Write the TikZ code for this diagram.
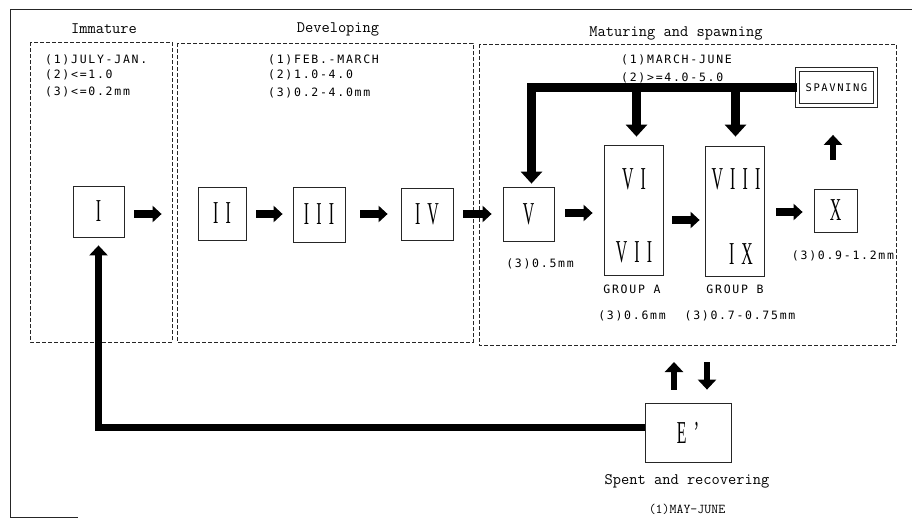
\documentclass[tikz,border=0pt]{standalone}
\usepackage{fontspec}
\usepackage{graphicx}
\setmainfont{Liberation Serif}
\newfontfamily\plotfont[LetterSpace=15]{DejaVu Sans Mono}
\newfontfamily\typefont{Latin Modern Mono}
\newfontfamily\numfont[LetterSpace=45]{Liberation Serif}
\usetikzlibrary{arrows.meta}
\newcommand{\rn}[1]{{\numfont\fontsize{22}{22}\selectfont\scalebox{0.72}[1.45]{#1}}}
\begin{document}
\begin{tikzpicture}[x=1pt,y=-1pt,
  stage/.style={draw=black!85, line width=0.8pt, inner sep=0pt},
  zone/.style={draw=black!85, line width=0.7pt, dash pattern=on 4pt off 2pt},
  title/.style={font=\typefont\fontsize{16}{16}\selectfont, inner sep=0pt},
  data/.style={font=\plotfont\fontsize{11.5}{11.5}\selectfont, inner sep=0pt},
  spent/.style={font=\typefont\fontsize{16}{16}\selectfont, inner sep=0pt},
  blk/.style={line width=8pt, -{Triangle[length=9pt,width=16pt]}},
  blkv/.style={line width=6pt, -{Triangle[length=10pt,width=18pt]}},
  bar/.style={line width=9pt, line join=miter, -{Triangle[length=12pt,width=21pt]}},
  ret/.style={line width=7pt, line join=miter, -{Triangle[length=10pt,width=18pt]}},
]
\useasboundingbox (0,0) rectangle (912,523);
% outer frame
\draw[line width=0.8pt, black!85] (912,9) -- (10,9) -- (10,517) -- (78,517);
% zones
\draw[zone] (30,42) rectangle (172,342);
\draw[zone] (177,43) rectangle (473,342);
\draw[zone] (479,44) rectangle (896,345);
% titles
\node[title] (tImm) at (104,29) {Immature};
\node[title] (tDev) at (338,29) {Developing};
\node[title] (tMat) at (676,33) {Maturing and spawning};
% data texts
\node[data, anchor=base west] (d11) at (45,63) {(1)JULY-JAN.};
\node[data, anchor=base west] (d12) at (45,78) {(2)<=1.0};
\node[data, anchor=base west] (d13) at (45,95) {(3)<=0.2mm};
\node[data, anchor=base west] (d21) at (268,63) {(1)FEB.-MARCH};
\node[data, anchor=base west] (d22) at (268,78) {(2)1.0-4.0};
\node[data, anchor=base west] (d23) at (268,96) {(3)0.2-4.0mm};
\node[data, anchor=base west] (d31) at (621,63) {(1)MARCH-JUNE};
\node[data, anchor=base west] (d32) at (621,81) {(2)>=4.0-5.0};
% stage boxes
\node[stage, minimum width=51pt, minimum height=51pt] (I) at (98.5,211.5) {\rn{I}};
\node[stage, minimum width=48pt, minimum height=53pt] (II) at (222,213.5) {\rn{II}};
\node[stage, minimum width=52pt, minimum height=55pt] (III) at (319,214.5) {\rn{III}};
\node[stage, minimum width=52pt, minimum height=52pt] (IV) at (427,214) {\rn{IV}};
\node[stage, minimum width=51pt, minimum height=54pt] (V) at (528.5,214) {\rn{V}};
\node[stage, minimum width=59pt, minimum height=130pt] (A) at (633.5,210) {};
\node (t6) at (634,179) {\rn{VI}};
\node (t7) at (634,252) {\rn{VII}};
\node[stage, minimum width=59pt, minimum height=130pt] (B) at (734.5,211) {};
\node (t8) at (736,179) {\rn{VIII}};
\node (t9) at (741,254) {\rn{IX}};
\node[stage, minimum width=43pt, minimum height=43pt] (X) at (835.5,210.5) {\rn{X}};
\node[stage, double=white, double distance=2.6pt, line width=0.8pt, minimum width=78pt, minimum height=36pt] (SP) at (836.5,87.5) {\plotfont\fontsize{10.5}{10.5}\selectfont SPAVNING};
\node[stage, minimum width=86pt, minimum height=59pt] (E) at (688,432.5) {\rn{E’}};
% labels under boxes
\node[data, anchor=base] (l5) at (540,267) {(3)0.5mm};
\node[data, anchor=base] (lA) at (632,293) {GROUP A};
\node[data, anchor=base] (lB) at (735,293) {GROUP B};
\node[data, anchor=base] (lA3) at (632,319) {(3)0.6mm};
\node[data, anchor=base] (lB3) at (740,319) {(3)0.7-0.75mm};
\node[data, anchor=base] (lX) at (843,259) {(3)0.9-1.2mm};
\node[spent] (sp1) at (687,481) {Spent and recovering};
\node[font=\typefont\fontsize{13.5}{13.5}\selectfont, inner sep=0pt] (sp2) at (687,509) {(1)MAY-JUNE};
% horizontal block arrows
\draw[blk, shorten <=10pt, shorten >=36pt] (I.east |- 0,214) -- (II.west |- 0,214);
\draw[blk, shorten <=10pt, shorten >=10pt] (II.east |- 0,214) -- (III.west |- 0,214);
\draw[blk, shorten <=15pt, shorten >=13pt] (III.east |- 0,214) -- (IV.west |- 0,214);
\draw[blk, shorten <=10pt, shorten >=11pt] (IV.east |- 0,214) -- (V.west |- 0,214);
\draw[blk, shorten <=11pt, shorten >=11pt] (V.east |- 0,213) -- (A.west |- 0,213);
\draw[blk, shorten <=9pt, shorten >=5pt] (A.east |- 0,220) -- (B.west |- 0,220);
\draw[blk, shorten <=12pt, shorten >=11pt] (B.east |- 0,212) -- (X.west |- 0,212);
% spawning feedback bar
\draw[bar, shorten >=3pt] (SP.west) -- ([xshift=3pt]SP.west -| V.north) -- ([xshift=3pt]V.north);
\draw[bar, shorten >=8pt] ([xshift=3pt]A.north |- SP.west) -- ([xshift=3pt]A.north);
\draw[bar, shorten >=9pt] ([xshift=1pt]B.north |- SP.west) -- ([xshift=1pt]B.north);
\draw[blkv, shorten <=29pt, shorten >=29pt] ([xshift=-2.5pt]X.north) -- ([xshift=-2.5pt]X.north |- SP.south);
% spent and recovering
\draw[blkv, shorten <=13pt] ([xshift=-14pt]E.north) -- ([xshift=-14pt]E.north |- 0,362);
\draw[blkv, shorten >=13pt] ([xshift=19pt]E.north |- 0,362) -- ([xshift=19pt]E.north);
\draw[ret, shorten >=8pt] ([yshift=5.5pt]E.west) -- ([yshift=5.5pt]E.west -| I.south) -- (I.south);
\end{tikzpicture}
\end{document}
